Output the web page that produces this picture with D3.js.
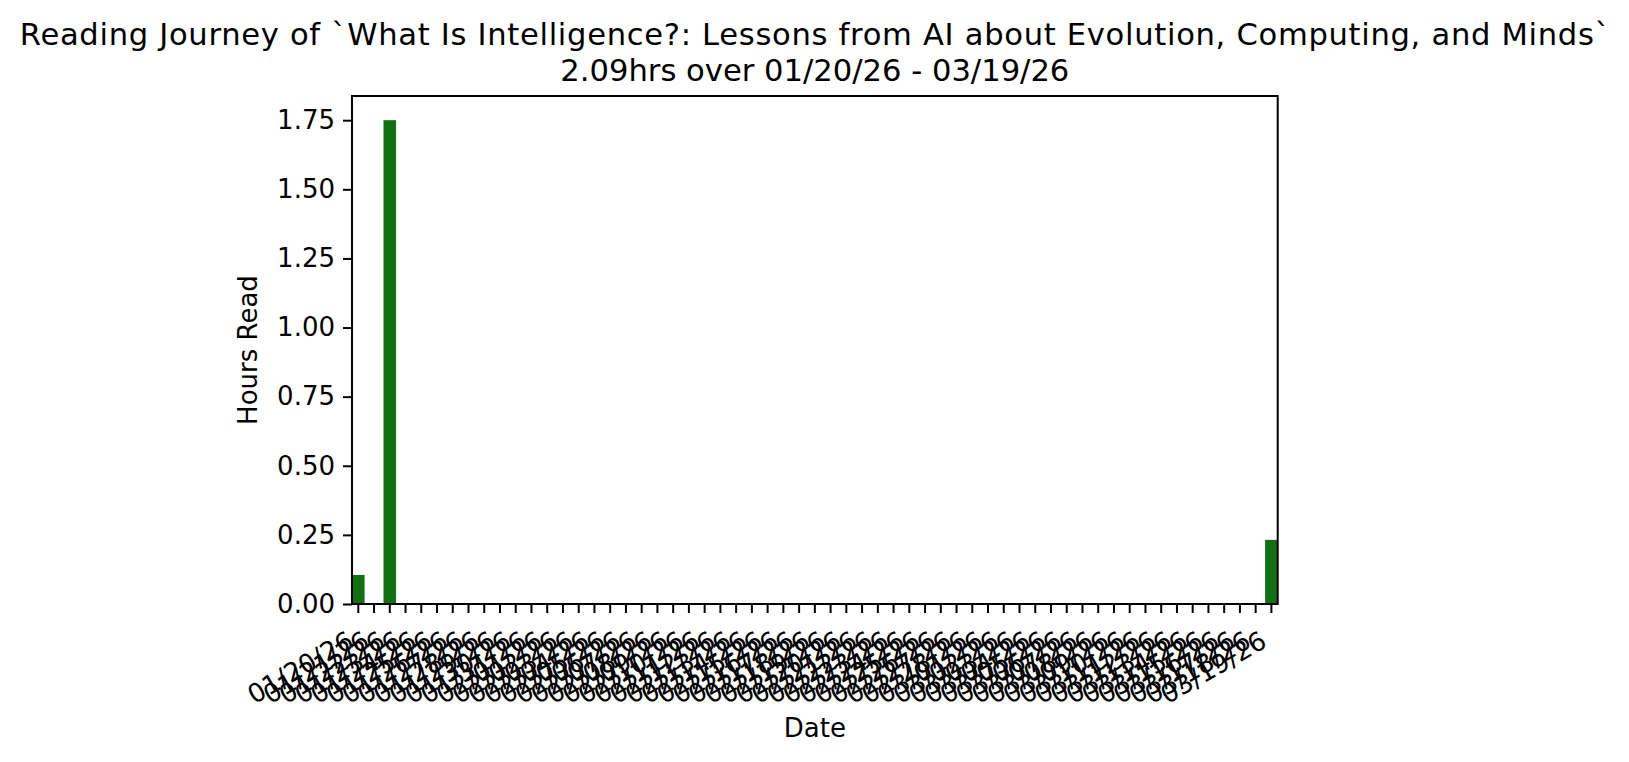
<!DOCTYPE html>
<html>
<head>
<meta charset="utf-8">
<script src="https://cdn.jsdelivr.net/npm/d3@7"></script>
<style>
  html, body { margin: 0; padding: 0; background: #ffffff; }
  svg { display: block; }
  text { font-family: "DejaVu Sans", sans-serif; fill: #000; }
</style>
</head>
<body>
<svg id="chart" width="1629" height="762"></svg>
<script>
// ---- data ----
const titleLine1 = "Reading Journey of `What Is Intelligence?: Lessons from AI about Evolution, Computing, and Minds`";
const titleLine2 = "2.09hrs over 01/20/26 - 03/19/26";
const startDate = "2026-01-20";
const endDate = "2026-03-19";
const readDates = ["2026-01-20", "2026-01-22", "2026-03-19"];
const readHours = [0.105, 1.75, 0.232];
const yTicks = [0, 0.25, 0.5, 0.75, 1.0, 1.25, 1.5, 1.75];
const xLabel = "Date";
const yLabel = "Hours Read";
const barColor = "#126f12";

(function () {
// ---- build the daily table ----
const parse = d3.timeParse("%Y-%m-%d");
const fmt = d3.timeFormat("%m/%d/%y");
const keyFmt = d3.timeFormat("%Y-%m-%d");
const days = d3.timeDay.range(parse(startDate), d3.timeDay.offset(parse(endDate), 1));
const hoursByDay = new Map(readDates.map((d, i) => [d, readHours[i]]));
const table = days.map(d => ({ key: keyFmt(d), label: fmt(d), hours: hoursByDay.get(keyFmt(d)) || 0 }));

// ---- layout ----
const svg = d3.select("#chart");
const mLeft = 352, mRight = 1277.7, mTop = 96, mBottom = 604;
const fs = 26;

const x = d3.scaleBand().domain(table.map(d => d.key)).range([mLeft, mRight]).paddingInner(0.2).paddingOuter(0);
const yMax = d3.max(readHours) * 1.05;
const y = d3.scaleLinear().domain([0, yMax]).range([mBottom, mTop]);

// bars
svg.append("g").selectAll("rect").data(table).join("rect")
  .attr("x", d => x(d.key))
  .attr("width", x.bandwidth())
  .attr("y", d => y(d.hours))
  .attr("height", d => mBottom - y(d.hours))
  .attr("fill", barColor);

// y axis
const yAxis = d3.axisLeft(y).tickValues(yTicks).tickFormat(d3.format(".2f")).tickSize(9).tickPadding(8);
const gy = svg.append("g").attr("transform", `translate(${mLeft},0)`).call(yAxis);
gy.select(".domain").remove();
gy.selectAll(".tick line").attr("stroke", "#000").attr("stroke-width", 2);
gy.selectAll(".tick text").attr("font-size", fs).attr("font-family", "DejaVu Sans").attr("fill", "#000");

// x axis
const labelOf = new Map(table.map(d => [d.key, d.label]));
const xAxis = d3.axisBottom(x).tickFormat(k => labelOf.get(k)).tickSize(9).tickPadding(0);
const gx = svg.append("g").attr("transform", `translate(0,${mBottom})`).call(xAxis);
gx.select(".domain").remove();
gx.selectAll(".tick line").attr("stroke", "#000").attr("stroke-width", 2);
gx.selectAll(".tick text")
  .attr("font-size", fs).attr("font-family", "DejaVu Sans").attr("fill", "#000")
  .attr("text-anchor", "end")
  .attr("dy", null)
  .attr("y", null)
  .attr("transform", "translate(-3,42) rotate(-30)");

// frame
svg.append("rect").attr("x", mLeft).attr("y", mTop).attr("width", mRight - mLeft).attr("height", mBottom - mTop)
  .attr("fill", "none").attr("stroke", "#000").attr("stroke-width", 2);

// labels
svg.append("text").attr("x", (mLeft + mRight) / 2).attr("y", 737).attr("text-anchor", "middle")
  .attr("font-size", fs).text(xLabel);
svg.append("text").attr("transform", `translate(257,${(mTop + mBottom) / 2}) rotate(-90)`).attr("text-anchor", "middle")
  .attr("font-size", fs).text(yLabel);

// title
svg.append("text").attr("x", (mLeft + mRight) / 2).attr("y", 45).attr("text-anchor", "middle")
  .attr("font-size", 30.6).attr("textLength", 1590).attr("lengthAdjust", "spacing").text(titleLine1);
svg.append("text").attr("x", (mLeft + mRight) / 2).attr("y", 80.5).attr("text-anchor", "middle")
  .attr("font-size", 30.6).text(titleLine2);
})();
</script>
</body>
</html>
